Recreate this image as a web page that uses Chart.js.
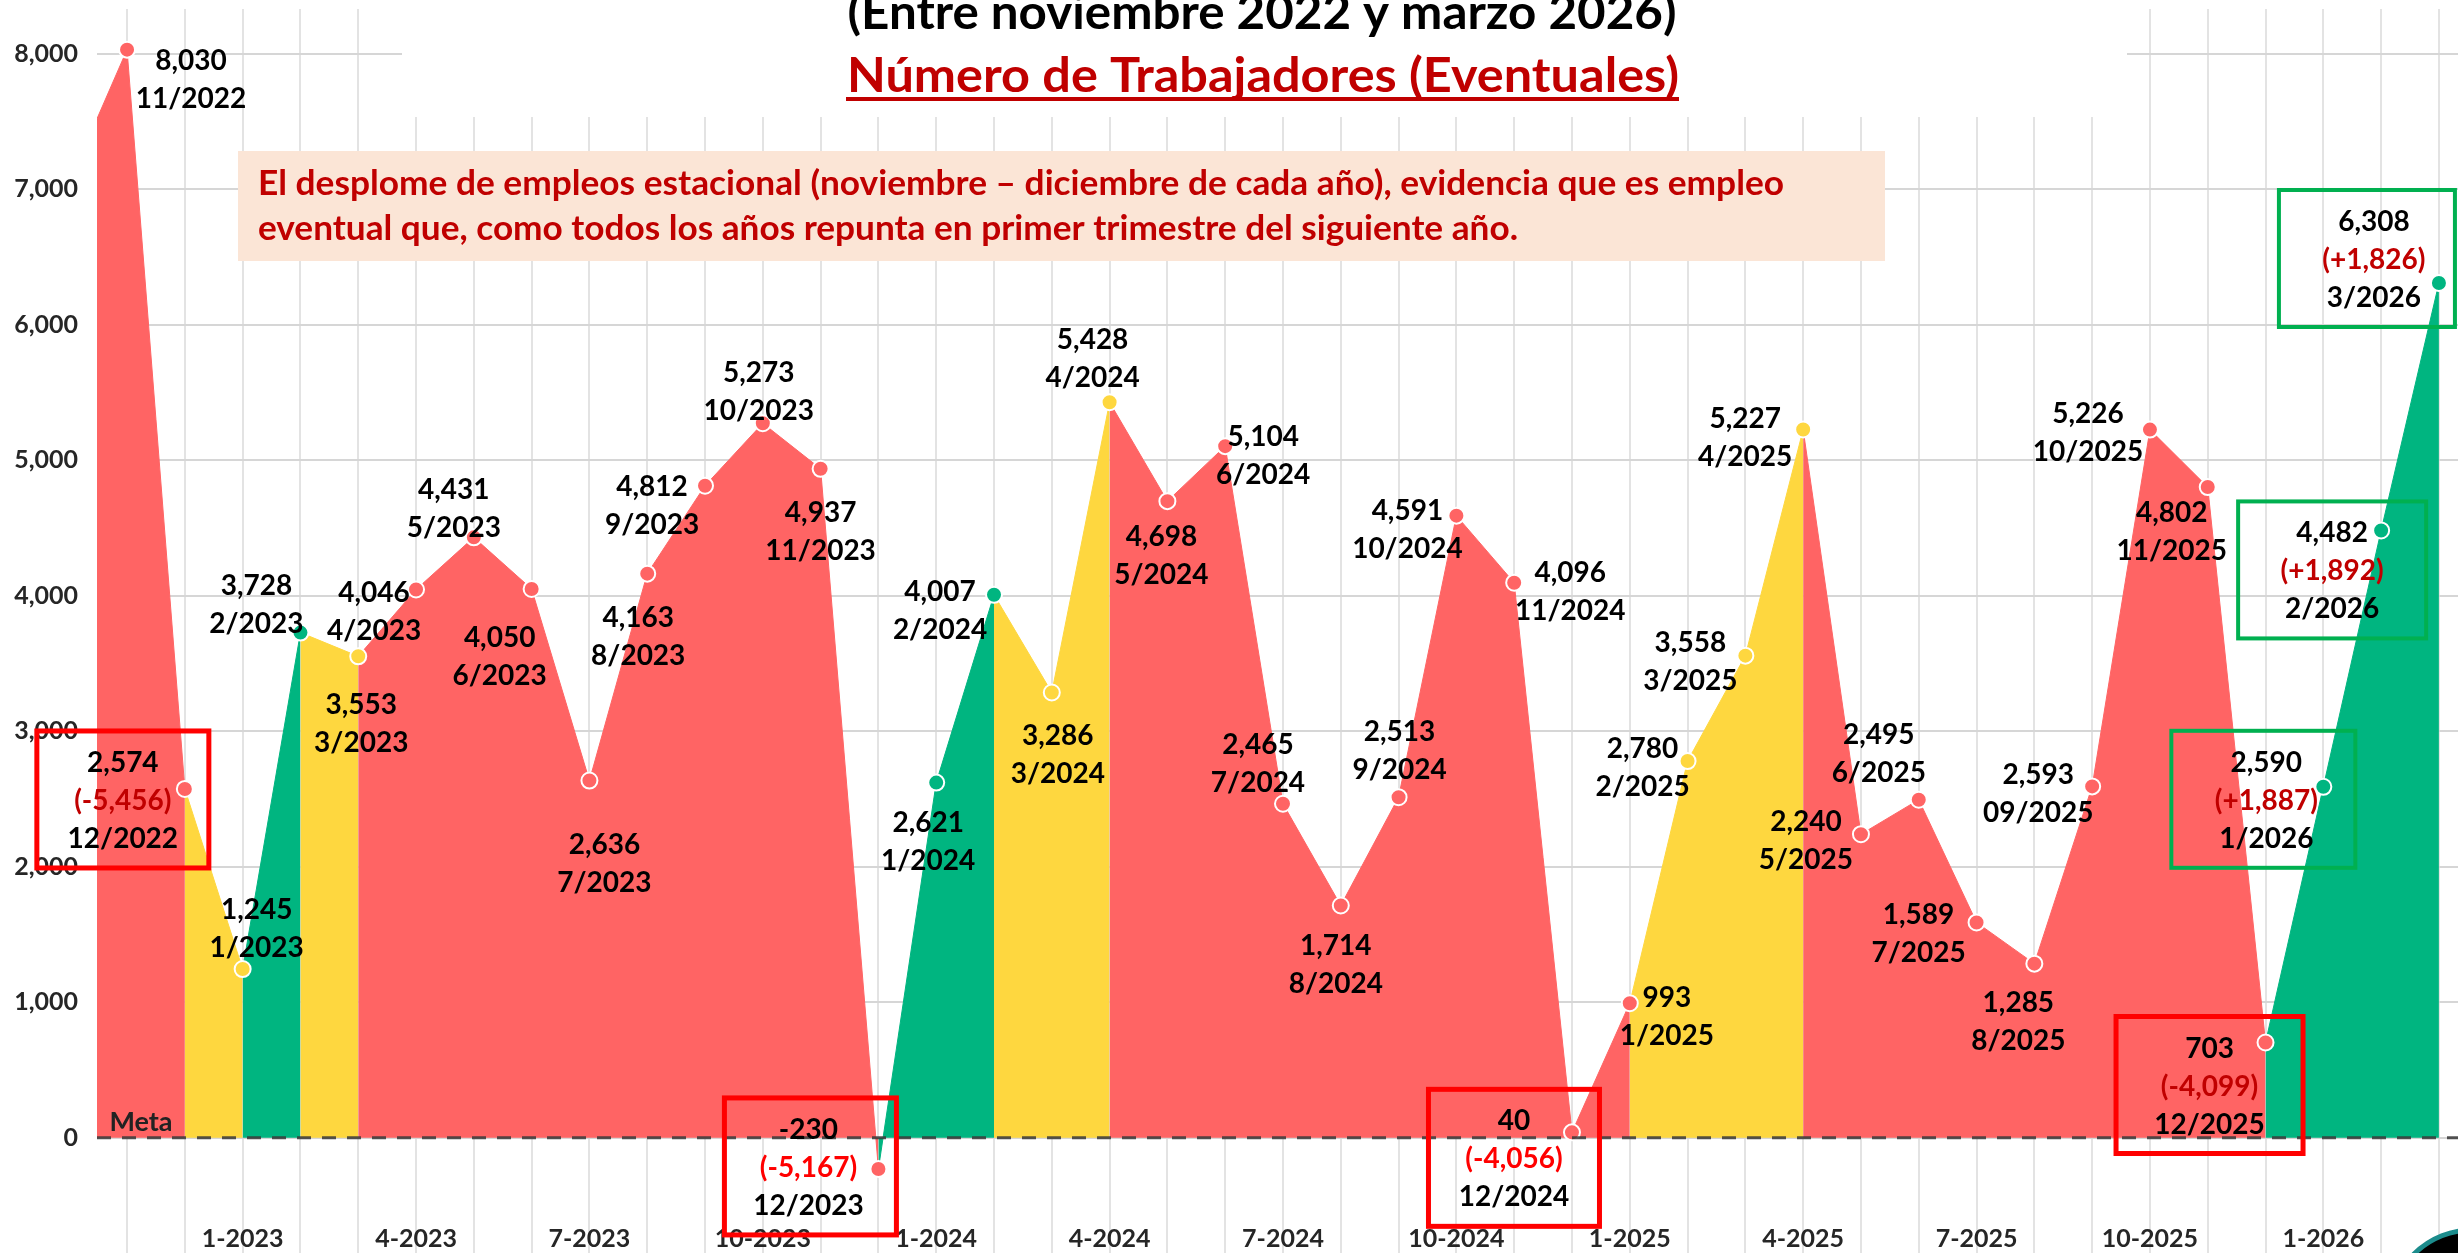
<!DOCTYPE html>
<html lang="es">
  <head>
    <meta charset="UTF-8" />
    <meta name="viewport" content="width=device-width, initial-scale=1.0" />
    <script src="https://cdn.jsdelivr.net/npm/chart.js@4.4.1/dist/chart.umd.min.js"></script>
    <title>Número de Trabajadores (Eventuales)</title>
    <style>
      html,
      body {
        margin: 0;
        padding: 0;
        background: #fff;
        overflow: hidden;
      }
      .canvas-container {
        position: relative;
        width: 2458px;
        height: 1253px;
      }
    </style>
  </head>
  <body>
    <div class="canvas-container">
      <canvas id="myChart"></canvas>
    </div>

    <script>
      // datos: trabajadores eventuales por mes (10/2022 solo asoma en el borde)
      const fechas = [
        "10/2022", "11/2022", "12/2022",
        "1/2023", "2/2023", "3/2023", "4/2023", "5/2023", "6/2023",
        "7/2023", "8/2023", "9/2023", "10/2023", "11/2023", "12/2023",
        "1/2024", "2/2024", "3/2024", "4/2024", "5/2024", "6/2024",
        "7/2024", "8/2024", "9/2024", "10/2024", "11/2024", "12/2024",
        "1/2025", "2/2025", "3/2025", "4/2025", "5/2025", "6/2025",
        "7/2025", "8/2025", "09/2025", "10/2025", "11/2025", "12/2025",
        "1/2026", "2/2026", "3/2026",
      ];
      const valores = [
        7050, 8030, 2574,
        1245, 3728, 3553, 4046, 4431, 4050, 2636, 4163, 4812, 5273, 4937, -230,
        2621, 4007, 3286, 5428, 4698, 5104, 2465, 1714, 2513, 4591, 4096, 40,
        993, 2780, 3558, 5227, 2240, 2495, 1589, 1285, 2593, 5226, 4802, 703,
        2590, 4482, 6308,
      ];
      // tramo: R = caída/normal, Y = recuperación, G = repunte
      const tramos = [
        "R", "R", "R",
        "Y", "G", "Y", "R", "R", "R", "R", "R", "R", "R", "R", "R",
        "G", "G", "Y", "Y", "R", "R", "R", "R", "R", "R", "R", "R",
        "R", "Y", "Y", "Y", "R", "R", "R", "R", "R", "R", "R", "R",
        "G", "G", "G",
      ];
      const ticksY = [0, 1000, 2000, 3000, 4000, 5000, 6000, 7000, 8000];
      const META = 0;
      const titulo1 = "(Entre noviembre 2022 y marzo 2026)";
      const titulo2 = "Número de Trabajadores (Eventuales)";
      const nota = [
        "El desplome de empleos estacional (noviembre – diciembre de cada año), evidencia que es empleo",
        "eventual que, como todos los años repunta en primer trimestre del siguiente año.",
      ];
      // meses con variación resaltada
      const resaltados = [2, 14, 26, 38, 39, 40, 41];

      const colores = { R: "#FF6464", Y: "#FED73F", G: "#00B580" };

      // ubicación de cada etiqueta respecto a su punto [dx, dy primera línea]
      const posEtiqueta = [
        null, [64, 11], [-62, -26],
        [14, -59], [-44, -47], [3, 49], [-42, 3], [-20, -47], [-32, 49],
        [15, 64], [-9, 44], [-53, 1], [-4, -50], [0, 44], [-70, -39],
        [-8, 40], [-54, -3], [6, 43], [-17, -62], [-6, 36], [38, -9],
        [-25, -59], [-5, 40], [1, -65], [-49, -5], [56, -10], [-58, -11],
        [37, -5], [-45, -12], [-55, -13], [-58, -11], [-55, -12], [-40, -65],
        [-58, -7], [-16, 39], [-54, -11], [-62, -16], [-36, 26], [-56, 6],
        [-57, -24], [-49, 3], [-65, -61],
      ];
      const cajas = {
        2: { w: 172, dx: 0, borde: "#FF0000", texto: "#C00000" },
        14: { w: 172, dx: 2, borde: "#FF0000", texto: "#FF0000" },
        26: { w: 171, dx: 0, borde: "#FF0000", texto: "#FF0000" },
        38: { w: 187, dx: 0, borde: "#FF0000", texto: "#C00000" },
        39: { w: 184, dx: -3, borde: "#00B050", texto: "#C00000" },
        40: { w: 188, dx: 0, borde: "#00B050", texto: "#C00000" },
        41: { w: 176, dx: -7, borde: "#00B050", texto: "#C00000" },
      };

      const fmt = (v) => (v === 0 ? 0 : v).toLocaleString("en-US");

      function textoAjustado(ctx, texto, x, y, ancho, align) {
        const w = ctx.measureText(texto).width;
        ctx.save();
        ctx.translate(x, y);
        ctx.scale(ancho / w, 1);
        ctx.textAlign = align;
        ctx.fillText(texto, 0, 0);
        ctx.restore();
      }

      // fija el área de trazado tal como en la lámina original
      const AREA = { left: 97, top: 9, bottom: 1215 };
      const fijarArea = {
        id: "fijarArea",
        afterLayout(chart) {
          const a = chart.chartArea;
          const { x, y } = chart.scales;
          a.left = AREA.left;
          a.top = AREA.top;
          a.bottom = AREA.bottom;
          a.right = chart.width;
          a.width = a.right - a.left;
          a.height = a.bottom - a.top;
          Object.assign(y, { left: 0, right: a.left, width: a.left, top: a.top, bottom: a.bottom, height: a.height });
          Object.assign(x, { left: a.left, right: a.right, width: a.width, top: a.bottom, bottom: chart.height, height: chart.height - a.bottom });
          y.configure();
          x.configure();
        },
      };

      const fondoTitulo = {
        id: "fondoTitulo",
        beforeDatasetsDraw(chart) {
          const ctx = chart.ctx;
          ctx.save();
          ctx.fillStyle = "#fff";
          ctx.fillRect(402, 0, 1725, 117);
          ctx.fillStyle = "#FBE5D6";
          ctx.fillRect(238, 151, 1647, 110);
          ctx.restore();
        },
      };

      const rotulos = {
        id: "rotulos",
        afterDatasetsDraw(chart) {
          const ctx = chart.ctx;
          const area = chart.chartArea;
          const yMeta = chart.scales.y.getPixelForValue(META);
          ctx.save();

          // línea meta
          ctx.strokeStyle = "rgba(55,55,55,0.85)";
          ctx.lineWidth = 3;
          ctx.setLineDash([14, 11]);
          ctx.beginPath();
          ctx.moveTo(area.left, yMeta);
          ctx.lineTo(area.right, yMeta);
          ctx.stroke();
          ctx.setLineDash([]);
          ctx.fillStyle = "#222";
          ctx.font = "bold 27px Lato";
          ctx.textAlign = "center";
          ctx.textBaseline = "middle";
          ctx.fillText("Meta", area.left + 44, yMeta - 15);

          // títulos
          ctx.textBaseline = "alphabetic";
          ctx.fillStyle = "#000";
          ctx.font = "bold 47px Lato";
          textoAjustado(ctx, titulo1, 1262, 29, 829, "center");
          ctx.fillStyle = "#C00000";
          textoAjustado(ctx, titulo2, 1263, 92, 832, "center");
          ctx.fillRect(846, 97, 833, 4);

          // nota
          ctx.font = "bold 35px Lato";
          textoAjustado(ctx, nota[0], 258, 195, 1526, "left");
          textoAjustado(ctx, nota[1], 258, 240, 1260, "left");

          // etiquetas de datos
          const pts = chart.getDatasetMeta(0).data;
          ctx.font = "bold 28px Lato";
          ctx.textAlign = "center";
          ctx.textBaseline = "middle";
          pts.forEach((p, i) => {
            const pos = posEtiqueta[i];
            if (!pos) return;
            const caja = cajas[i];
            const lineas = [fmt(valores[i])];
            if (resaltados.includes(i)) {
              const d = valores[i] - valores[i - 1];
              lineas.push("(" + (d > 0 ? "+" : "-") + fmt(Math.abs(d)) + ")");
            }
            lineas.push(fechas[i]);
            const cx = p.x + pos[0];
            const y0 = p.y + pos[1];
            lineas.forEach((t, k) => {
              ctx.fillStyle = caja && k === 1 ? caja.texto : "#000";
              ctx.fillText(t, cx, y0 + k * 38);
            });
            if (caja) {
              ctx.strokeStyle = caja.borde;
              ctx.lineWidth = caja.borde === "#FF0000" ? 5 : 4;
              ctx.strokeRect(
                cx + caja.dx - caja.w / 2,
                y0 - 32,
                caja.w,
                (lineas.length - 1) * 38 + 61
              );
            }
          });

          // logotipo recortado en la esquina
          ctx.beginPath();
          ctx.arc(2472, 1312, 82, 0, Math.PI * 2);
          ctx.fillStyle = "#000";
          ctx.fill();
          ctx.strokeStyle = "#1B8C8C";
          ctx.lineWidth = 5;
          ctx.stroke();
          ctx.restore();
        },
      };

      function dibujar() {
        const ctx = document.getElementById("myChart").getContext("2d");
        const puntos = valores.map((v, i) => ({ x: i - 1, y: v }));

        new Chart(ctx, {
          type: "line",
          data: {
            datasets: [
              {
                label: "Eventuales",
                data: puntos,
                fill: "origin",
                tension: 0,
                borderWidth: 1,
                backgroundColor: colores.R,
                borderColor: colores.R,
                segment: {
                  backgroundColor: (c) => colores[tramos[c.p1DataIndex]],
                  borderColor: (c) => colores[tramos[c.p1DataIndex]],
                },
                pointRadius: 8,
                pointBorderWidth: 2,
                pointBorderColor: "#fff",
                pointBackgroundColor: tramos.map((t) => colores[t]),
              },
            ],
          },
          options: {
            responsive: true,
            maintainAspectRatio: false,
            animation: false,
            layout: { padding: 0, autoPadding: false },
            plugins: {
              legend: { display: false },
              tooltip: { enabled: false },
            },
            scales: {
              x: {
                type: "linear",
                min: -0.52,
                max: 40.33,
                border: { display: false },
                grid: {
                  color: "#E3E3E3",
                  lineWidth: 2,
                  tickLength: 40,
                },
                ticks: {
                  stepSize: 1,
                  includeBounds: false,
                  autoSkip: false,
                  maxRotation: 0,
                  maxTicksLimit: 100,
                  padding: -31,
                  color: "#262626",
                  font: { family: "Lato", size: 25, weight: "bold" },
                  callback: (value) => {
                    const f = fechas[value + 1];
                    if (!f) return "";
                    const [m, a] = f.split("/");
                    return [1, 4, 7, 10].includes(Number(m))
                      ? Number(m) + "-" + a
                      : "";
                  },
                },
              },
              y: {
                min: -570,
                max: 8330,
                afterBuildTicks: (s) => {
                  s.ticks = ticksY.map((v) => ({ value: v }));
                },
                border: { display: false },
                grid: {
                  color: "#D6D6D6",
                  lineWidth: 2,
                  drawTicks: false,
                },
                ticks: {
                  padding: 19,
                  color: "#262626",
                  font: { family: "Lato", size: 25, weight: "bold" },
                  callback: (v) => fmt(v),
                },
              },
            },
          },
          plugins: [fijarArea, fondoTitulo, rotulos],
        });
      }

      document.fonts.load("bold 26px Lato").then(dibujar, dibujar);
    </script>
  </body>
</html>
